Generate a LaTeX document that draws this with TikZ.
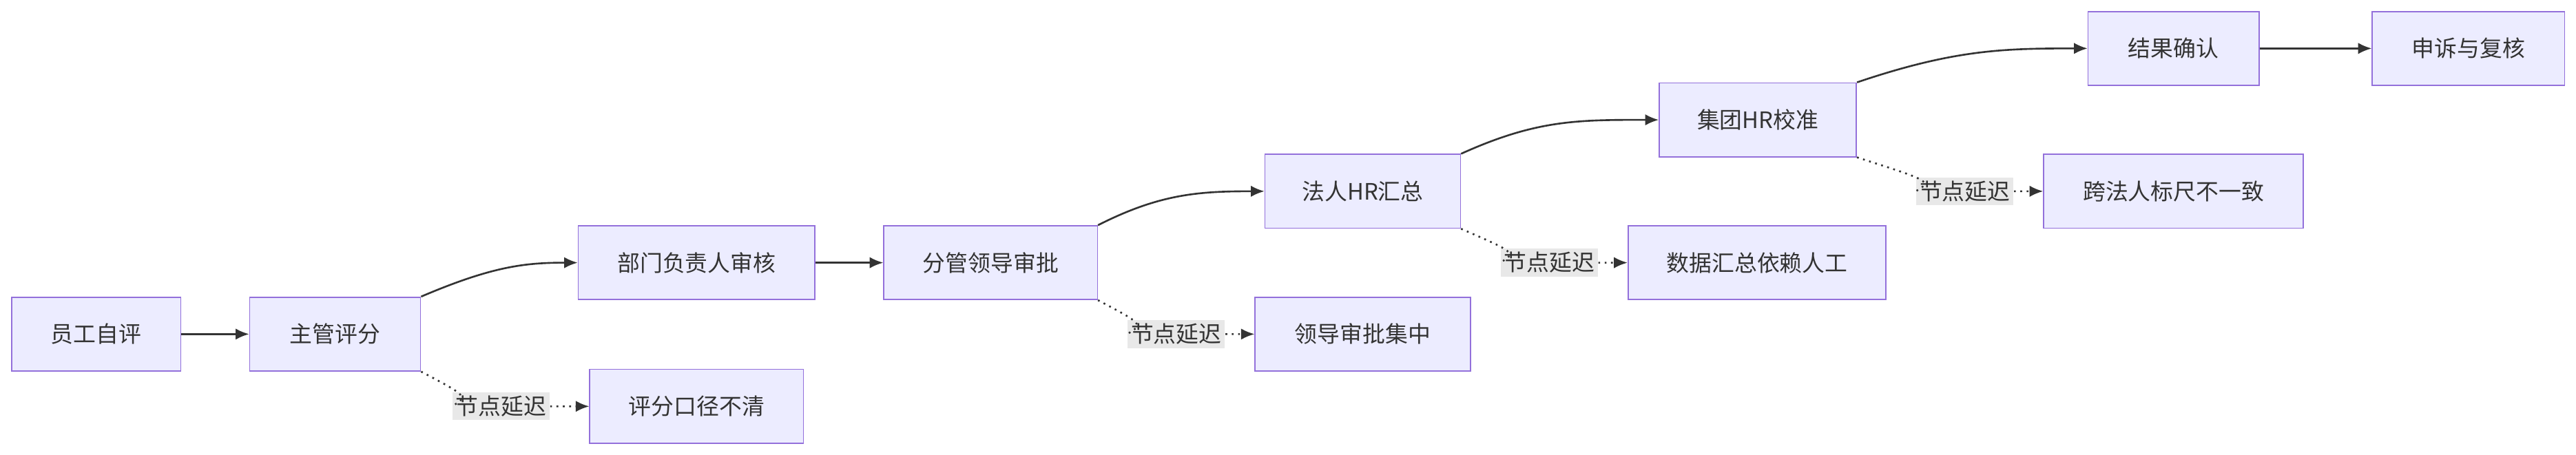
\documentclass[tikz,border=0pt]{standalone}
\usepackage{fontspec}
\setmainfont{Noto Sans CJK SC}
\usetikzlibrary{arrows.meta}
\definecolor{boxfill}{HTML}{ECECFF}
\definecolor{boxline}{HTML}{9370DB}
\definecolor{edgeline}{HTML}{333333}
\definecolor{lblfill}{HTML}{E8E8E8}
\tikzset{
    stage/.style={draw=boxline,fill=boxfill,line width=0.5pt,minimum height=45*\u cm,inner sep=0pt,font=\fontsize{10}{12}\selectfont,text=edgeline},
    flow/.style={draw=edgeline,line width=0.8pt,-{Latex[length=6pt,width=5pt]}},
    delay/.style={draw=edgeline,line width=0.8pt,dotted,-{Latex[length=6pt,width=5pt]}},
    lbl/.style={fill=lblfill,inner sep=1.5pt,font=\fontsize{10}{12}\selectfont,text=edgeline}
}
\begin{document}
\begin{tikzpicture}[x=0.02551cm,y=-0.02551cm]
    \def\u{0.02551}
    \useasboundingbox (0,0) rectangle (1568,277);
    % main chain
    \node[stage,minimum width=103*\u cm] (self) at (58.5,203.5) {员工自评};
    \node[stage,minimum width=104*\u cm] (mgr) at (204,203.5) {主管评分};
    \node[stage,minimum width=144*\u cm] (dept) at (424,160) {部门负责人审核};
    \node[stage,minimum width=130*\u cm] (vp) at (603,160) {分管领导审批};
    \node[stage,minimum width=119*\u cm] (hr) at (829.5,116.5) {法人HR汇总};
    \node[stage,minimum width=120*\u cm] (group) at (1070,73) {集团HR校准};
    \node[stage,minimum width=104*\u cm] (confirm) at (1323,29.5) {结果确认};
    \node[stage,minimum width=117*\u cm] (appeal) at (1502.5,29.5) {申诉与复核};
    % issues
    \node[stage,minimum width=130*\u cm] (unclear) at (424,247.5) {评分口径不清};
    \node[stage,minimum width=131*\u cm] (central) at (829.5,203.5) {领导审批集中};
    \node[stage,minimum width=157*\u cm] (manual) at (1069.5,160) {数据汇总依赖人工};
    \node[stage,minimum width=158*\u cm] (scale) at (1323,116.5) {跨法人标尺不一致};
    % edges
    \draw[flow] (self) -- (mgr);
    \draw[flow] (mgr.north east) .. controls (300,162) and (320,160) .. (dept.west);
    \draw[flow] (dept) -- (vp);
    \draw[flow] (vp.north east) .. controls (706,118) and (730,116.5) .. (hr.west);
    \draw[flow] (hr.north east) .. controls (935,73) and (960,73) .. (group.west);
    \draw[flow] (group.north east) .. controls (1190,30) and (1220,29.5) .. (confirm.west);
    \draw[flow] (confirm) -- (appeal);
    % delays
    \foreach \src/\dst/\lx/\ly in {mgr/unclear/305/247.5,vp/central/716/203.5,hr/manual/943/160,group/scale/1196/116.5}{
        \node[lbl] (d-\dst) at (\lx,\ly) {节点延迟};
        \draw[delay] (\src.south east) .. controls (\lx-20,\ly-6) .. (d-\dst.west) (d-\dst.east) -- (\dst.west);
    }
\end{tikzpicture}
\end{document}
